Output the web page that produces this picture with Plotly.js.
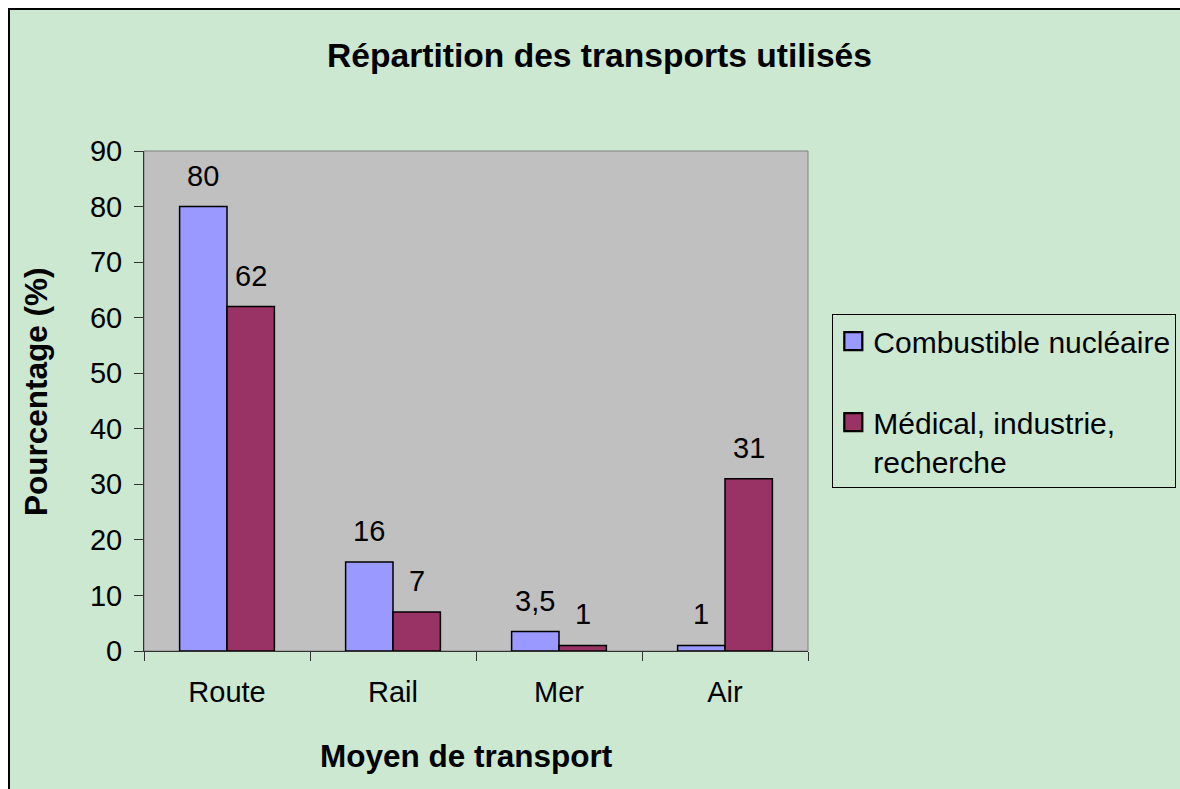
<!DOCTYPE html>
<html><head><meta charset="utf-8">
<script src="https://cdn.plot.ly/plotly-3.0.1.min.js"></script>
<style>
html,body{margin:0;padding:0;background:#fff;overflow:hidden;width:1180px;height:789px;}
#frame{position:absolute;left:8px;top:8px;width:1210px;height:779px;border-left:2px solid #000;border-top:2px solid #000;background:#CCE8D0;}
#chart{width:1210px;height:779px;}
</style></head><body>
<div id="frame"><div id="chart"></div></div>
<script>
const categories = ['Route', 'Rail', 'Mer', 'Air'];
const seriesNames = ['Combustible nucléaire', 'Médical, industrie,<br>recherche'];
const combustible = [80, 16, 3.5, 1];
const medical = [62, 7, 1, 31];
const yTicks = [0, 10, 20, 30, 40, 50, 60, 70, 80, 90];
const chartTitle = 'Répartition des transports utilisés';
const xTitle = 'Moyen de transport';
const yTitle = 'Pourcentage (%)';

const FONT = '"Liberation Sans", Arial, sans-serif';
const colors = ['#9999FF', '#993366'];
const seriesValues = [combustible, medical];
const fmt = v => String(v).replace('.', ',');

const traces = seriesValues.map((vals, s) => ({
  type: 'bar',
  name: s === 0 ? seriesNames[s] + '<br> ' : seriesNames[s],
  x: categories,
  y: vals,
  marker: {color: colors[s], line: {color: '#000', width: 1.5}},
  hoverinfo: 'x+y'
}));

const annotations = [];
seriesValues.forEach((vals, s) => vals.forEach((v, i) => annotations.push({
  x: categories[i], y: v, xref: 'x', yref: 'y',
  text: fmt(v), showarrow: false,
  xshift: s === 0 ? -23.7 : 23.7, yshift: 31, yanchor: 'middle',
  font: {size: 29, color: '#000', family: FONT}
})));
annotations.push({
  xref: 'paper', yref: 'paper', x: -0.1628, y: 0.5197, text: yTitle,
  textangle: -90, showarrow: false, xanchor: 'center', yanchor: 'middle',
  font: {size: 31.5, color: '#000', family: FONT, weight: 'bold'}
});
annotations.push({
  xref: 'paper', yref: 'paper', x: 0.4857, y: -0.2107, text: xTitle,
  showarrow: false, xanchor: 'center', yanchor: 'middle',
  font: {size: 31.5, color: '#000', family: FONT, weight: 'bold'}
});

const layout = {
  width: 1210, height: 779,
  paper_bgcolor: '#CCE8D0', plot_bgcolor: '#C0C0C0',
  margin: {l: 134.3, r: 412.3, t: 141, b: 138.3, pad: 0},
  font: {family: FONT, color: '#000', size: 29},
  title: {
    text: chartTitle, x: 589.5 / 1210, xref: 'container', xanchor: 'center',
    y: 0.9416, yref: 'container', yanchor: 'middle',
    font: {size: 33.6, family: FONT, color: '#000', weight: 'bold'}
  },
  barmode: 'group', bargap: 0.429, bargroupgap: 0,
  xaxis: {
    type: 'category', tickson: 'boundaries', ticks: 'outside', ticklen: 9,
    tickcolor: '#333', showline: true, linecolor: '#333', linewidth: 1,
    showgrid: false, zeroline: false, tickfont: {size: 29, family: FONT, color: '#000'},
    ticklabelstandoff: 15
  },
  yaxis: {
    range: [0, 90], tickvals: yTicks, ticktext: yTicks.map(String),
    ticks: 'outside', ticklen: 9, tickcolor: '#333',
    showline: true, linecolor: '#333', linewidth: 1,
    showgrid: false, zeroline: false, tickfont: {size: 29, family: FONT, color: '#000'},
    ticklabelstandoff: 6
  },
  shapes: [{
    type: 'rect', xref: 'x domain', yref: 'y domain', x0: 0, x1: 1, y0: 0, y1: 1,
    line: {color: '#808080', width: 1}, layer: 'below'
  }],
  legend: {
    x: 1.0366, xanchor: 'left', y: 0.6738, yanchor: 'top',
    bgcolor: '#CCE8D0', bordercolor: '#000', borderwidth: 1,
    valign: 'top', font: {size: 30, family: FONT, color: '#000'}
  },
  showlegend: true,
  annotations: annotations
};

Plotly.newPlot('chart', traces, layout, {displayModeBar: false, staticPlot: true}).then(gd => {
  gd.querySelectorAll('.legendpoints path').forEach(p => {
    const t = p.getAttribute('transform') || '';
    p.setAttribute('transform', (t + ' scale(1.5)').trim());
  });
});
</script>
</body></html>
